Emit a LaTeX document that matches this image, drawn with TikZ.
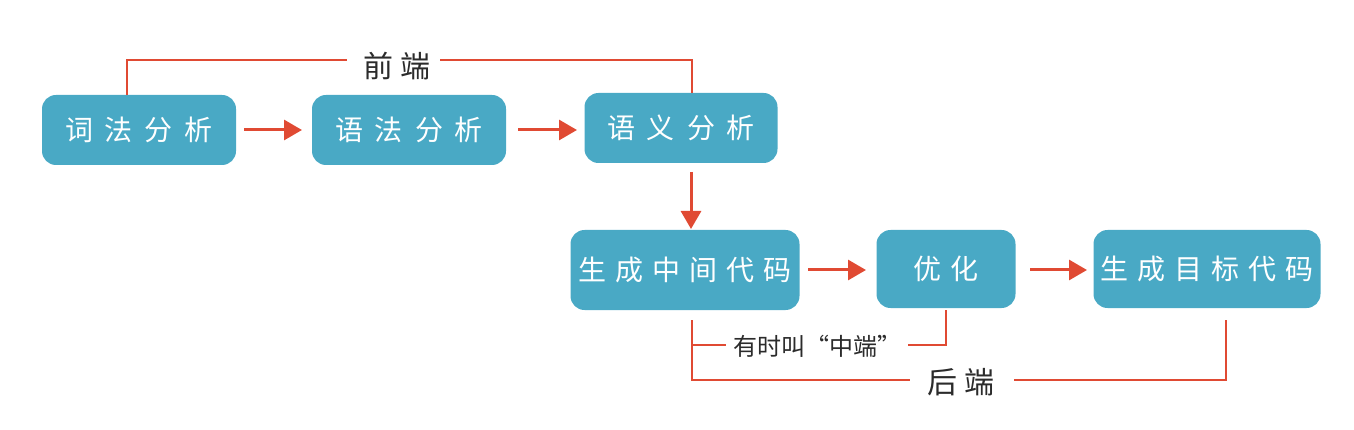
\documentclass[tikz,border=0pt]{standalone}
\usepackage{fontspec}
\newfontfamily\cjk{Noto Sans CJK SC}
\usetikzlibrary{arrows.meta}
\definecolor{boxc}{HTML}{49A9C5}
\definecolor{redc}{HTML}{E04A33}
\definecolor{txt}{HTML}{2B2B2B}
\newcommand{\cgap}{\hspace{9pt}}
\newcommand{\wgap}{\hspace{12pt}}
\newcommand{\lgap}{\hspace{8pt}}
\tikzset{
  stage/.style={fill=boxc, rounded corners=14pt, inner sep=0pt, text=white,
    font=\cjk\fontsize{28}{32}\selectfont},
  flow/.style={draw=redc, line width=3pt, -{Triangle[length=18pt,width=20pt]}},
  brace/.style={draw=redc, line width=2pt},
  lbl/.style={text=txt, font=\cjk\fontsize{30}{34}\selectfont, inner sep=0pt},
  slbl/.style={text=txt, font=\cjk\fontsize{24}{28}\selectfont, inner sep=0pt}
}
\begin{document}
\begin{tikzpicture}[x=1pt,y=-1pt]
\useasboundingbox (0,0) rectangle (1354,430);
\node[stage, minimum width=194pt, minimum height=70pt] (lex) at (139,130) {词\wgap 法\wgap 分\wgap 析};
\node[stage, minimum width=194pt, minimum height=70pt] (syn) at (409,130) {语\wgap 法\wgap 分\wgap 析};
\node[stage, minimum width=193pt, minimum height=70pt] (sem) at (681,128) {语\wgap 义\wgap 分\wgap 析};
\node[stage, minimum width=229pt, minimum height=80pt] (ir) at (685,270) {生\cgap 成\cgap 中\cgap 间\cgap 代\cgap 码};
\node[stage, minimum width=139pt, minimum height=78pt] (opt) at (946,269) {优\cgap 化};
\node[stage, minimum width=227pt, minimum height=78pt] (gen) at (1207,269) {生\cgap 成\cgap 目\cgap 标\cgap 代\cgap 码};

\coordinate (a1s) at (244,130); \coordinate (a1e) at (302,130);
\coordinate (a2s) at (518,130); \coordinate (a2e) at (577,130);
\coordinate (a3s) at (691,172); \coordinate (a3e) at (691,229);
\coordinate (a4s) at (808,270); \coordinate (a4e) at (866,270);
\coordinate (a5s) at (1030,270); \coordinate (a5e) at (1087,270);
\draw[flow] (a1s) -- (a1e);
\draw[flow] (a2s) -- (a2e);
\draw[flow] (a3s) -- (a3e);
\draw[flow] (a4s) -- (a4e);
\draw[flow] (a5s) -- (a5e);

% front end bracket
\node[lbl] (fe) at (397,66) {前\lgap 端};
\draw[brace] (127,95) -- (127,60) -- (347,60);
\draw[brace] (440,60) -- (692,60) -- (692,93);

% middle end bracket
\node[slbl] (me) at (817,346) {有时叫“中端”};
\draw[brace] (692,320) -- (692,380) -- (910,380);
\draw[brace] (692,345) -- (726,345);
\draw[brace] (908,345) -- (946,345) -- (946,310);

% back end bracket
\node[lbl] (be) at (961,382) {后\lgap 端};
\draw[brace] (1014,380) -- (1226,380) -- (1226,320);
\end{tikzpicture}
\end{document}
